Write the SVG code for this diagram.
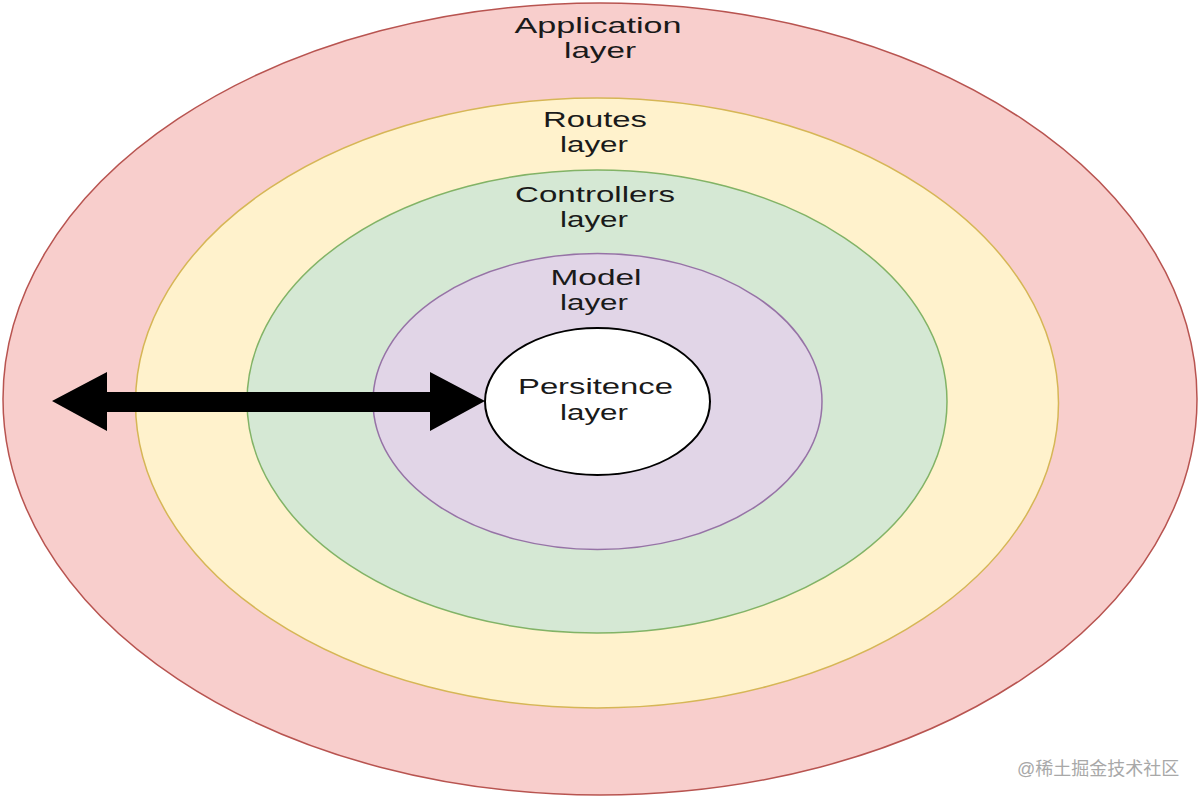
<svg xmlns="http://www.w3.org/2000/svg" width="1200" height="800" viewBox="0 0 1200 800">
  <style>
    .lbl { font-family: "Liberation Sans", Arial, sans-serif; font-size: 22px; fill: #1a1a1a; text-anchor: middle; }
    .ring { stroke-width: 1.5; }
    .wm { font-family: "Liberation Sans", "Noto Sans CJK SC", sans-serif; font-size: 18px; fill: #a8a8a8; }
  </style>
  <rect x="0" y="0" width="1200" height="800" fill="#ffffff"/>
  <g id="application">
    <ellipse class="ring" cx="600" cy="399" rx="597" ry="396" fill="#f8cecc" stroke="#b85450"/>
    <text class="lbl" x="598" y="33" textLength="167" lengthAdjust="spacingAndGlyphs">Application</text>
    <text class="lbl" x="600" y="58" textLength="72" lengthAdjust="spacingAndGlyphs">layer</text>
  </g>
  <g id="routes">
    <ellipse class="ring" cx="597" cy="403" rx="461.5" ry="305" fill="#fff2cc" stroke="#d6b656"/>
    <text class="lbl" x="595" y="127" textLength="104" lengthAdjust="spacingAndGlyphs">Routes</text>
    <text class="lbl" x="594" y="152" textLength="68" lengthAdjust="spacingAndGlyphs">layer</text>
  </g>
  <g id="controllers">
    <ellipse class="ring" cx="597" cy="401.5" rx="350" ry="231.5" fill="#d5e8d4" stroke="#82b366"/>
    <text class="lbl" x="595" y="202" textLength="160" lengthAdjust="spacingAndGlyphs">Controllers</text>
    <text class="lbl" x="594" y="227" textLength="68" lengthAdjust="spacingAndGlyphs">layer</text>
  </g>
  <g id="model">
    <ellipse class="ring" cx="597.5" cy="401.5" rx="224.5" ry="148" fill="#e1d5e7" stroke="#9673a6"/>
    <text class="lbl" x="596" y="285" textLength="91" lengthAdjust="spacingAndGlyphs">Model</text>
    <text class="lbl" x="594" y="310" textLength="68" lengthAdjust="spacingAndGlyphs">layer</text>
  </g>
  <g id="persistence">
    <ellipse cx="597.5" cy="401.5" rx="112.5" ry="73.5" fill="#ffffff" stroke="#000000" stroke-width="2"/>
    <text class="lbl" x="595.5" y="394" textLength="155" lengthAdjust="spacingAndGlyphs">Persitence</text>
    <text class="lbl" x="594" y="420" textLength="68" lengthAdjust="spacingAndGlyphs">layer</text>
  </g>
  <g id="connectors">
    <polygon points="52,401 107,372 107,392 430,392 430,372 485,401 430,431 430,412 107,412 107,431" fill="#000000"/>
  </g>
  <text class="wm" x="1017" y="775">@稀土掘金技术社区</text>
</svg>
